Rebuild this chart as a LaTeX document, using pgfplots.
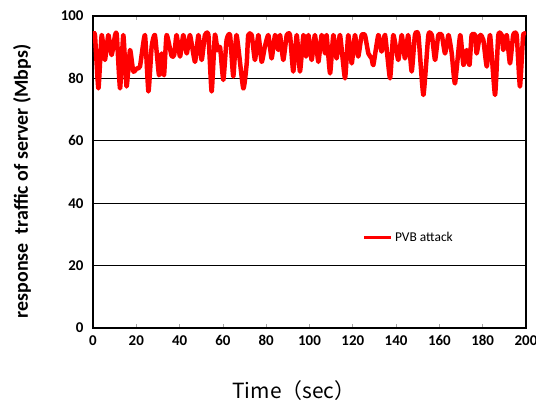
\documentclass[border=0pt]{standalone}
\usepackage{fontspec}
\setmainfont{Carlito}
\newfontfamily\cjk{Noto Sans CJK SC}
\usepackage{pgfplots}
\pgfplotsset{compat=1.18}

\pgfplotstableread{
t v
0 93.9
0.9 93.9
2.5 76.8
4 93.9
5.5 85.9
7.1 93.9
8.6 87.5
10.2 93.9
11 93.9
12.5 76.8
14 93.9
15.5 77.4
17.1 89.1
18.6 82.2
20.2 83.2
21.7 83.8
24 93.9
25.6 75.8
27.1 90.2
28.6 93.9
30.5 81
31.7 88
32.8 81
34 93.9
36.3 87.2
37.5 87.5
38.6 93.9
40.2 87
41.7 93.9
43.3 88
44.8 93.9
47.1 85.3
48.7 93.9
50.2 85.9
51.7 93.9
53.3 93.9
54.8 75.8
56.3 93.9
57.5 89
58.7 90
60.2 79.5
61.7 92.3
63.3 93.9
64.8 80.6
66.3 93.9
69.4 76.8
71 84.8
71.7 93.9
73.3 93.9
74.8 85.9
76.4 93.9
77.9 85.3
79.4 90.2
81 93.9
82.5 86.4
84.1 93.9
85.6 89.1
86.4 93.9
87.9 85.9
89.5 93.9
91 93.9
92.5 82.2
94.1 93.9
95.6 82.2
97.2 93.9
98.4 87
99.5 93.9
101 85.9
102.5 93.9
104.1 85.3
105.6 93.9
107.2 88
107.9 93.9
109.5 81.6
111 93.9
112.5 86.4
114.1 93.9
116.4 80
117.9 93.9
119.5 84.8
121 93.9
122.5 87
124.1 93.9
125.6 93.9
127.2 88
128.7 86.4
129.5 84.3
131.8 93.9
133.3 88.6
134.9 93.9
137.2 80
138.7 93.9
141 85.9
142.6 93.9
144.1 86.4
145.6 93.9
147.2 82.2
148.7 93.9
150.3 93.9
152.6 74.7
154.9 93.9
156.5 93.9
158 85.9
159.5 93.9
161.1 93.9
162.6 88
164.2 93.9
165.7 88
167.2 78.4
169.6 93.9
171.1 84.3
172.6 89.1
173.9 84.3
174.9 93.9
176.5 93.9
177.2 88
178.8 93.9
180.3 92.3
181.9 83.8
183.4 93.9
185.7 74.7
187.2 93.9
188.8 93.9
189.5 89.1
191.1 93.9
192.6 84.8
194.1 93.9
195.7 93.9
197.2 77.4
198.7 93.9
200 93.9
}\pvb

\begin{document}
\begin{tikzpicture}
\begin{axis}[
    at={(0,0)}, anchor=south west,
    scale only axis,
    width=433bp, height=312bp,
    xmin=0, xmax=200, ymin=0, ymax=100,
    xtick={0,20,...,200}, ytick={0,20,...,100},
    ymajorgrids, grid style={black, line width=1.3pt},
    axis line style={black, line width=1.7pt},
    tick align=inside, major tick length=4bp,
    xtick style={gray!70, line width=0.8pt},
    ytick style={draw=none},
    ticklabel style={font=\fontsize{15}{17}\selectfont\bfseries},
    /pgf/number format/assume math mode=true,
    xticklabel style={yshift=-4bp},
    yticklabel style={xshift=-6bp},
    xlabel={{\cjk Time（sec）}},
    xlabel style={font=\fontsize{21}{24}\selectfont, at={(axis description cs:0.464,-0.199)}, anchor=center},
    ylabel={response\ \ traffic of server (Mbps)},
    ylabel style={font=\fontsize{20}{23}\selectfont\bfseries, at={(axis description cs:-0.164,0.47)}, anchor=center},
    legend style={draw=none, fill=none, at={(axis description cs:0.622,0.29)}, anchor=west,
        font=\fontsize{13.5}{15}\selectfont, inner sep=0pt},
    legend cell align=left,
    legend image code/.code={\draw[#1, line width=3.5pt] (0bp,0bp) -- (27bp,0bp);},
]
\addplot[red, line width=4.5pt, line join=round, smooth, tension=0.3] table[x=t, y=v] {\pvb};
\addlegendentry{PVB attack}
\end{axis}
\pgfresetboundingbox
\path (-93bp,-77bp) rectangle (443bp,328bp);
\end{tikzpicture}
\end{document}
